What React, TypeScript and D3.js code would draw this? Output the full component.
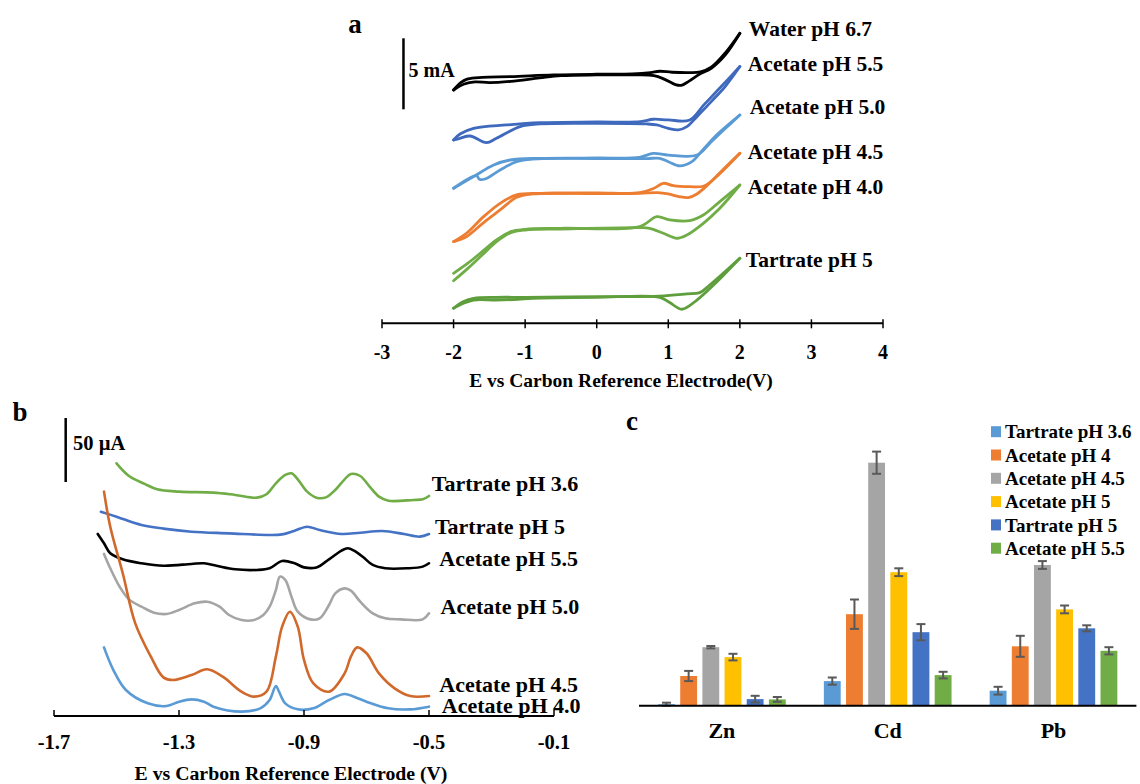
import React from "react";
import * as d3 from "d3";

const FONT = "'Liberation Serif', 'Times New Roman', serif";

type Pt = [number, number];

// ---------- panel a : cyclic voltammograms (E / V, I / mA, stacked) ----------
const waterUp: Pt[] = [[-2.0, 16.43], [-1.9, 16.95], [-1.8, 17.21], [-1.6, 17.32], [-1.2, 17.37], [-0.6, 17.49], [0, 17.54], [0.5, 17.56], [0.75, 17.65], [0.88, 17.75], [1.05, 17.68], [1.3, 17.65], [1.45, 17.7], [1.6, 18.03], [1.8, 19.06], [2.0, 20.42]];
const waterDown: Pt[] = [[-2.0, 16.43], [-1.85, 16.85], [-1.7, 17.0], [-1.5, 16.95], [-1.2, 17.04], [-0.8, 17.28], [-0.5, 17.44], [0, 17.49], [0.5, 17.49], [0.8, 17.44], [0.95, 17.18], [1.1, 16.81], [1.18, 16.76], [1.28, 17.02], [1.44, 17.56], [1.6, 17.96], [1.8, 18.92], [2.0, 20.42]];
const ac55Up: Pt[] = [[-2.0, 12.91], [-1.91, 13.33], [-1.72, 13.73], [-1.26, 13.97], [-0.79, 14.13], [0, 14.18], [0.61, 14.2], [0.79, 14.37], [1.0, 14.32], [1.3, 14.32], [1.5, 15.4], [1.7, 16.46], [2.0, 18.08]];
const ac55Down: Pt[] = [[-2.0, 12.91], [-1.91, 13.03], [-1.77, 13.19], [-1.54, 12.72], [-1.4, 13.03], [-1.07, 13.85], [-0.79, 14.04], [0, 14.08], [0.7, 14.04], [0.84, 13.97], [1.0, 13.73], [1.14, 13.62], [1.26, 13.85], [1.4, 14.55], [1.6, 15.61], [1.8, 16.71], [2.0, 18.08]];
const ac50Up: Pt[] = [[-2.0, 9.51], [-1.72, 10.33], [-1.44, 11.15], [-1.21, 11.5], [-0.79, 11.62], [0, 11.64], [0.6, 11.69], [0.79, 11.97], [1.0, 11.85], [1.4, 11.85], [1.6, 12.79], [1.8, 13.73], [2.0, 14.67]];
const ac50Down: Pt[] = [[-2.0, 9.51], [-1.68, 10.4], [-1.64, 10.14], [-1.56, 10.16], [-1.35, 10.8], [-1.12, 11.38], [-0.9, 11.57], [0, 11.6], [0.7, 11.6], [0.88, 11.62], [1.0, 11.38], [1.16, 11.08], [1.33, 11.38], [1.5, 12.32], [1.7, 13.38], [2.0, 14.67]];
const ac45Up: Pt[] = [[-2.0, 5.75], [-1.82, 6.34], [-1.58, 7.51], [-1.35, 8.45], [-1.12, 9.04], [-0.79, 9.15], [0, 9.18], [0.6, 9.2], [0.8, 9.51], [0.93, 9.86], [1.07, 9.69], [1.3, 9.62], [1.5, 9.67], [1.7, 10.45], [2.0, 11.97]];
const ac45Down: Pt[] = [[-2.0, 5.75], [-1.82, 6.1], [-1.58, 7.09], [-1.35, 7.98], [-1.12, 8.87], [-0.9, 9.11], [0, 9.13], [0.6, 9.15], [0.85, 9.2], [1.0, 9.11], [1.15, 8.92], [1.28, 8.85], [1.4, 9.11], [1.55, 9.74], [1.75, 10.75], [2.0, 11.97]];
const ac40Up: Pt[] = [[-2.0, 3.52], [-1.8, 4.23], [-1.6, 5.05], [-1.4, 5.87], [-1.2, 6.46], [-1.0, 6.62], [-0.5, 6.69], [0.6, 6.81], [0.84, 7.51], [1.02, 7.28], [1.3, 7.23], [1.49, 7.63], [1.72, 8.57], [2.0, 9.74]];
const ac40Down: Pt[] = [[-2.0, 3.0], [-1.8, 3.87], [-1.6, 4.81], [-1.4, 5.75], [-1.2, 6.38], [-1.0, 6.57], [-0.5, 6.64], [0.6, 6.74], [0.74, 6.69], [0.93, 6.34], [1.12, 5.99], [1.26, 6.22], [1.49, 7.04], [1.72, 8.1], [2.0, 9.74]];
const tar5Up: Pt[] = [[-2.0, 1.06], [-1.86, 1.53], [-1.72, 1.76], [-1.4, 1.83], [-1.0, 1.83], [0, 1.88], [0.88, 1.92], [1.26, 2.07], [1.44, 2.16], [1.58, 2.7], [2.0, 4.58]];
const tar5Down: Pt[] = [[-2.0, 1.06], [-1.86, 1.41], [-1.72, 1.64], [-1.4, 1.64], [-1.1, 1.69], [-0.9, 1.76], [0, 1.83], [0.88, 1.83], [1.02, 1.46], [1.19, 0.99], [1.4, 1.64], [1.68, 2.93], [2.0, 4.58]];

const cvNames = ["Water pH 6.7", "Acetate pH 5.5", "Acetate pH 5.0", "Acetate pH 4.5", "Acetate pH 4.0", "Tartrate pH 5"];
const cvColors = ["#000000", "#3F69BD", "#5B9BD5", "#ED7D31", "#70AD47", "#5E9E3C"];
const cvLoops: Pt[][][] = [
  [waterUp, waterDown],
  [ac55Up, ac55Down],
  [ac50Up, ac50Down],
  [ac45Up, ac45Down],
  [ac40Up, ac40Down],
  [tar5Up, tar5Down],
];
const cvLabelLevel = [20.77, 18.31, 15.25, 12.08, 9.62, 4.51];
const cvLabelDx = [9, 8, 10, 8, 8, 6];

// ---------- panel b : square wave voltammograms (E / V, I / µA, stacked) ----------
const swvTar36: Pt[] = [[-1.5, 197.4], [-1.46, 187.5], [-1.41, 181.3], [-1.37, 177.1], [-1.3, 175.3], [-1.19, 174.5], [-1.12, 172.7], [-1.05, 170.6], [-1.02, 173.2], [-0.99, 181.8], [-0.96, 188.3], [-0.94, 189.6], [-0.92, 184.9], [-0.89, 175.3], [-0.86, 170.6], [-0.83, 170.8], [-0.8, 176.6], [-0.77, 184.9], [-0.75, 189.1], [-0.72, 187.5], [-0.69, 179.2], [-0.66, 171.4], [-0.63, 168.2], [-0.55, 168.8], [-0.52, 169.3], [-0.5, 171.9]];
const swvTar5: Pt[] = [[-1.55, 159.6], [-1.5, 155.7], [-1.42, 149.2], [-1.35, 146.4], [-1.26, 144.0], [-1.14, 142.7], [-1.01, 141.4], [-0.97, 141.9], [-0.93, 144.8], [-0.89, 147.9], [-0.85, 145.3], [-0.78, 142.2], [-0.72, 143.2], [-0.65, 144.5], [-0.58, 142.2], [-0.53, 140.1], [-0.5, 142.2]];
const swvAc55: Pt[] = [[-1.56, 142.2], [-1.54, 134.9], [-1.52, 127.1], [-1.48, 122.4], [-1.42, 119.3], [-1.35, 117.4], [-1.26, 118.8], [-1.22, 119.3], [-1.18, 117.4], [-1.12, 114.6], [-1.05, 114.1], [-1.01, 115.4], [-0.97, 121.1], [-0.93, 119.3], [-0.9, 116.1], [-0.86, 116.1], [-0.82, 122.4], [-0.78, 129.2], [-0.76, 131.0], [-0.74, 129.2], [-0.71, 124.0], [-0.68, 118.0], [-0.64, 115.4], [-0.57, 115.4], [-0.52, 116.7], [-0.5, 119.3]];
const swvAc50: Pt[] = [[-1.54, 126.6], [-1.52, 115.4], [-1.49, 101.0], [-1.46, 91.1], [-1.42, 85.4], [-1.38, 80.7], [-1.34, 79.7], [-1.3, 82.8], [-1.25, 88.0], [-1.21, 89.3], [-1.17, 85.4], [-1.14, 78.9], [-1.1, 75.0], [-1.06, 75.0], [-1.03, 78.9], [-1.01, 85.4], [-0.99, 98.4], [-0.977, 108.9], [-0.96, 106.3], [-0.94, 93.2], [-0.92, 81.5], [-0.88, 75.5], [-0.85, 76.3], [-0.82, 86.7], [-0.8, 95.8], [-0.77, 99.7], [-0.75, 97.9], [-0.72, 89.3], [-0.68, 80.2], [-0.64, 76.3], [-0.59, 75.5], [-0.52, 75.5], [-0.5, 80.2]];
const swvAc45: Pt[] = [[-1.54, 175.3], [-1.52, 147.9], [-1.48, 111.5], [-1.44, 72.4], [-1.39, 46.4], [-1.35, 30.2], [-1.32, 28.1], [-1.26, 32.0], [-1.21, 36.5], [-1.16, 30.7], [-1.1, 19.0], [-1.06, 15.1], [-1.02, 19.0], [-0.99, 46.4], [-0.97, 69.8], [-0.945, 81.5], [-0.92, 69.8], [-0.9, 43.8], [-0.87, 25.5], [-0.82, 19.0], [-0.77, 33.3], [-0.75, 46.4], [-0.73, 53.6], [-0.7, 49.0], [-0.66, 33.3], [-0.61, 21.6], [-0.56, 15.6], [-0.5, 15.6]];
const swvAc40: Pt[] = [[-1.54, 53.6], [-1.51, 35.9], [-1.47, 20.3], [-1.4, 9.9], [-1.34, 7.8], [-1.3, 11.2], [-1.26, 13.0], [-1.22, 11.2], [-1.19, 7.3], [-1.1, 3.4], [-1.04, 6.0], [-1.01, 12.5], [-0.99, 23.4], [-0.98, 19.0], [-0.96, 9.9], [-0.92, 5.2], [-0.87, 6.0], [-0.82, 12.5], [-0.77, 17.2], [-0.74, 15.1], [-0.7, 11.2], [-0.63, 6.0], [-0.56, 5.2], [-0.5, 7.3]];

const swvNames = ["Tartrate pH 3.6", "Tartrate pH 5", "Acetate pH 5.5", "Acetate pH 5.0", "Acetate pH 4.5", "Acetate pH 4.0"];
const swvColors = ["#70AD47", "#4472C4", "#000000", "#A5A5A5", "#D0692B", "#5B9BD5"];
const swvCurves = [swvTar36, swvTar5, swvAc55, swvAc50, swvAc45, swvAc40];
const swvLabelLevel = [181.8, 147.9, 123.2, 85.4, 25.0, 8.6];
const swvLabelE = [-0.491, -0.481, -0.467, -0.463, -0.467, -0.459];
const swvTicks = [-1.7, -1.3, -0.9, -0.5, -0.1];

// ---------- panel c : peak currents ----------
const metals = ["Zn", "Cd", "Pb"];
const electrolytes = ["Tartrate pH 3.6", "Acetate pH 4", "Acetate pH 4.5", "Acetate pH 5", "Tartrate pH 5", "Acetate pH 5.5"];
const barColors = ["#5B9BD5", "#ED7D31", "#A5A5A5", "#FFC000", "#4472C4", "#70AD47"];
const znPeak = [0.5, 9.9, 19.5, 16.2, 2.2, 2.1];
const cdPeak = [8.2, 30.5, 81.0, 44.5, 24.5, 10.2];
const pbPeak = [5.0, 19.8, 46.9, 32.1, 25.8, 18.3];
const znErr = [0.5, 1.7, 0.4, 1.1, 1.1, 0.8];
const cdErr = [1.2, 4.9, 3.7, 1.3, 2.7, 1.1];
const pbErr = [1.3, 3.5, 1.3, 1.3, 1.0, 1.2];

const peaks = [znPeak, cdPeak, pbPeak];
const errs = [znErr, cdErr, pbErr];

function PanelA() {
  const x = d3.scaleLinear().domain([-3, 4]).range([382, 883]);
  const y = d3.scaleLinear().domain([0, 5]).range([323.3, 252.3]);
  const line = d3
    .line<Pt>()
    .x((d) => x(d[0]))
    .y((d) => y(d[1]))
    .curve(d3.curveCatmullRom.alpha(0.5));
  const axisY = y(0);
  return (
    <g>
      <text x={355} y={24} dy="0.35em" fontSize={27} textAnchor="middle">a</text>
      {/* scale bar */}
      <line x1={x(-2.7)} x2={x(-2.7)} y1={y(15.07)} y2={y(20.07)} stroke="#000" strokeWidth={2.5} />
      <text x={x(-2.7) + 5} y={70} dy="0.35em" fontSize={20}>5 mA</text>
      {cvLoops.map((loop, i) =>
        loop.map((branch, j) => (
          <path key={`${i}-${j}`} d={line(branch) || ""} fill="none" stroke={cvColors[i]} strokeWidth={2.8} strokeLinejoin="round" strokeLinecap="round" />
        ))
      )}
      {cvNames.map((n, i) => (
        <text key={n} x={x(2) + cvLabelDx[i]} y={y(cvLabelLevel[i])} dy="0.35em" fontSize={21.5}>{n}</text>
      ))}
      <line x1={x(-3)} x2={x(4)} y1={axisY} y2={axisY} stroke="#000" strokeWidth={2} />
      {x.ticks(7).map((t) => (
        <g key={t}>
          <line x1={x(t)} x2={x(t)} y1={axisY - 4} y2={axisY + 5} stroke="#000" strokeWidth={1.5} />
          <text x={x(t)} y={352} dy="0.35em" fontSize={20} textAnchor="middle">{t}</text>
        </g>
      ))}
      <text x={621} y={380} dy="0.35em" fontSize={19.5} textAnchor="middle">E vs Carbon Reference Electrode(V)</text>
    </g>
  );
}

function PanelB() {
  const x = d3.scaleLinear().domain([-1.7, -0.1]).range([54, 554]);
  const y = d3.scaleLinear().domain([0, 50]).range([716, 652]);
  const line = d3
    .line<Pt>()
    .x((d) => x(d[0]))
    .y((d) => y(d[1]))
    .curve(d3.curveCatmullRom.alpha(0.5));
  const axisY = y(0);
  return (
    <g>
      <text x={20} y={412} dy="0.35em" fontSize={27} textAnchor="middle">b</text>
      <line x1={x(-1.6626)} x2={x(-1.6626)} y1={y(182.8)} y2={y(232.8)} stroke="#000" strokeWidth={2.5} />
      <text x={73} y={443} dy="0.35em" fontSize={20.5}>50 µA</text>
      {swvCurves.map((c, i) => (
        <path key={i} d={line(c) || ""} fill="none" stroke={swvColors[i]} strokeWidth={2.6} strokeLinecap="round" />
      ))}
      {swvNames.map((n, i) => (
        <text key={n} x={x(swvLabelE[i])} y={y(swvLabelLevel[i])} dy="0.35em" fontSize={22}>{n}</text>
      ))}
      <line x1={x(-1.7)} x2={x(-0.1)} y1={axisY} y2={axisY} stroke="#000" strokeWidth={2} />
      {swvTicks.map((t) => (
        <g key={t}>
          <line x1={x(t)} x2={x(t)} y1={axisY - 6} y2={axisY} stroke="#000" strokeWidth={1.5} />
          <text x={x(t)} y={742} dy="0.35em" fontSize={20.5} textAnchor="middle">{t.toFixed(1)}</text>
        </g>
      ))}
      <text x={291} y={773} dy="0.35em" fontSize={19.8} textAnchor="middle">E vs Carbon Reference Electrode (V)</text>
    </g>
  );
}

function PanelC() {
  const x = d3.scaleBand().domain(metals).range([639, 1136.4]).padding(0);
  const xi = d3.scaleBand().domain(electrolytes).range([0, x.bandwidth()]).paddingInner(0.24).paddingOuter(0.86);
  const y = d3.scaleLinear().domain([0, 100]).range([705.7, 405.7]);
  const bw = xi.bandwidth();
  const cap = 4.5;
  return (
    <g>
      <text x={632} y={421} dy="0.35em" fontSize={27} textAnchor="middle">c</text>
      {metals.map((m, mi) => (
        <g key={m} transform={`translate(${x(m)},0)`}>
          {electrolytes.map((e, ei) => {
            const v = peaks[mi][ei];
            const er = errs[mi][ei];
            const cx = (xi(e) || 0) + bw / 2;
            return (
              <g key={e}>
                <rect x={xi(e)} y={y(v)} width={bw} height={y(0) - y(v)} fill={barColors[ei]} />
                <line x1={cx} x2={cx} y1={y(v + er)} y2={y(Math.max(0, v - er))} stroke="#595959" strokeWidth={2} />
                <line x1={cx - cap} x2={cx + cap} y1={y(v + er)} y2={y(v + er)} stroke="#595959" strokeWidth={2} />
                <line x1={cx - cap} x2={cx + cap} y1={y(Math.max(0, v - er))} y2={y(Math.max(0, v - er))} stroke="#595959" strokeWidth={2} />
              </g>
            );
          })}
          <text x={x.bandwidth() / 2} y={730} dy="0.35em" fontSize={22} textAnchor="middle">{m}</text>
        </g>
      ))}
      <line x1={639} x2={1136.4} y1={y(0)} y2={y(0)} stroke="#000" strokeWidth={2} />
      {electrolytes.map((e, i) => (
        <g key={e} transform={`translate(991,${431.7 + i * 23.3})`}>
          <rect x={0} y={-5.5} width={10} height={11} fill={barColors[i]} />
          <text x={14} y={0} dy="0.35em" fontSize={19}>{e}</text>
        </g>
      ))}
    </g>
  );
}

export default function App() {
  return (
    <div style={{ position: "absolute", left: 0, top: 0 }}>
      <svg width={1140} height={784} style={{ display: "block", background: "#fff" }} fontFamily={FONT} fontWeight="bold">
        <PanelA />
        <PanelB />
        <PanelC />
      </svg>
    </div>
  );
}
